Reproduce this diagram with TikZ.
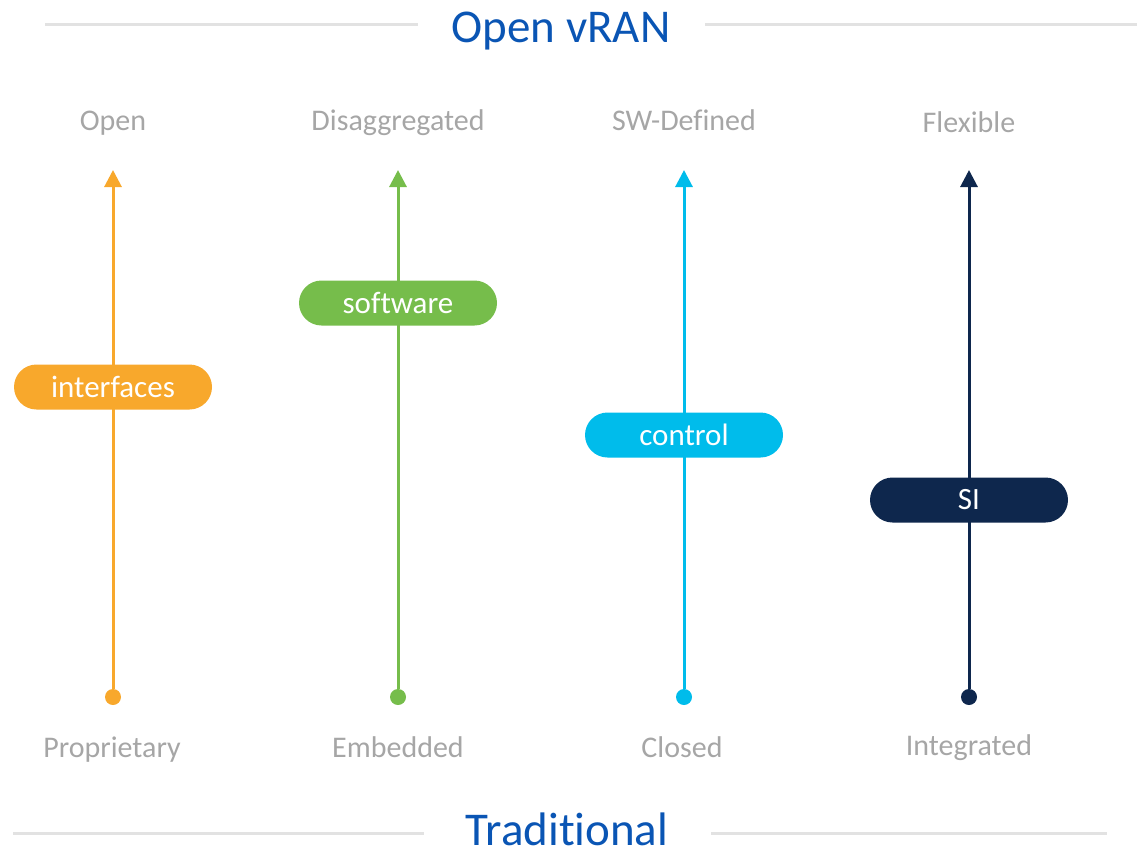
\documentclass[tikz,border=0pt]{standalone}
\usepackage{fontspec}
\setmainfont{Carlito}[Ligatures=NoCommon]
\usepackage{tikz}
\usetikzlibrary{arrows.meta,positioning}

\definecolor{vorange}{HTML}{F8A82C}
\definecolor{vgreen}{HTML}{76BD4B}
\definecolor{vcyan}{HTML}{00BCEB}
\definecolor{vnavy}{HTML}{0E274D}
\definecolor{vblue}{HTML}{0A55B4}
\definecolor{vgray}{HTML}{A6A6A6}
\definecolor{vrule}{HTML}{E2E2E2}

\begin{document}
\begin{tikzpicture}[x=1pt,y=-1pt,on grid,node distance=50pt,
    title/.style={text=vblue,font=\fontsize{47}{52}\selectfont,anchor=base,inner sep=1pt},
    rule/.style={draw=vrule,line width=3pt},
    side/.style={text=vgray,font=\fontsize{30}{34}\selectfont,anchor=base},
    dot/.style={circle,fill=#1,minimum size=16pt,inner sep=0pt},
    axis/.style={draw=#1,line width=3pt,-{Triangle[width=17pt,length=17pt]}},
    pill/.style={fill=#1,text=white,rounded corners=22.5pt,minimum width=198pt,
      minimum height=45pt,font=\fontsize{31}{34}\selectfont}]
      \useasboundingbox (0,0) rectangle (1137,857);

      % titles and rules
      \node[title] (t_open) at (561,42) {Open vRAN};
      \node[title] (t_trad) at (567,845) {Traditional};
      \coordinate (r_1) at (45,24);   \coordinate (r_2) at (418,24);
      \coordinate (r_3) at (705,24);  \coordinate (r_4) at (1137,24);
      \coordinate (r_5) at (13,833);  \coordinate (r_6) at (424,833);
      \coordinate (r_7) at (711,833); \coordinate (r_8) at (1107,833);
      \draw[rule] (r_1) -- (r_2) (r_3) -- (r_4) (r_5) -- (r_6) (r_7) -- (r_8);

      % axes
      \node[dot=vorange] (d_open) at (113,697) {};
      \node[dot=vgreen] (d_dis) at (398,697) {};
      \node[dot=vcyan] (d_sw) at (684,697) {};
      \node[dot=vnavy] (d_flex) at (969,697) {};

      \coordinate (tip_open) at (113,170);
      \coordinate (tip_dis) at (398,170);
      \coordinate (tip_sw) at (684,170);
      \coordinate (tip_flex) at (969,170);

      \path[axis=vorange] (d_open) -- (tip_open);
      \path[axis=vgreen] (d_dis) -- (tip_dis);
      \path[axis=vcyan] (d_sw) -- (tip_sw);
      \path[axis=vnavy] (d_flex) -- (tip_flex);

      \node[side] (l_open) at (113,130) {Open};
      \node[side] (l_dis) at (398,130) {Disaggregated};
      \node[side] (l_sw) at (684,130) {SW-Defined};
      \node[side] (l_flex) at (969,132) {Flexible};

      \node[side] (l_prop) at (112,757) {Proprietary};
      \node[side] (l_emb) at (398,757) {Embedded};
      \node[side] (l_closed) at (682,757) {Closed};
      \node[side] (l_integ) at (969,755) {Integrated};

      % pills
      \node[pill=vorange] (p_if) [above=310pt of d_open] {interfaces};
      \node[pill=vgreen] (p_sw) [above=394pt of d_dis] {software};
      \node[pill=vcyan] (p_ctl) [above=262pt of d_sw] {control};
      \node[pill=vnavy] (p_si) [above=197pt of d_flex] {SI};
\end{tikzpicture}
\end{document}
